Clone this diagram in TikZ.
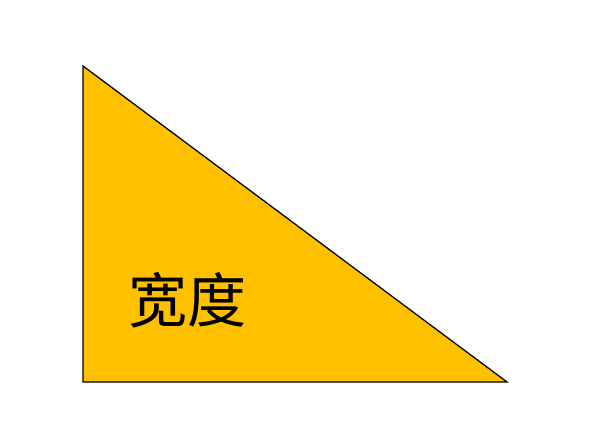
\documentclass[tikz,border=0pt]{standalone}
\usepackage{fontspec}
\newfontfamily\cjk{Noto Sans CJK SC}
\definecolor{wedgeorange}{RGB}{255,192,0}

\begin{document}
\begin{tikzpicture}[x=0.025cm,y=-0.025cm,
      wedge/.style={draw=black,fill=wedgeorange,line width=0.9pt,line join=miter},
      lbl/.style={inner sep=0pt,font=\cjk\fontsize{42}{48}\selectfont}]
    \useasboundingbox (0,0) rectangle (594,447);
    % corners of the triangle
    \coordinate (top) at (83,66);
    \coordinate (corner) at (83,382);
    \coordinate (tip) at (507,382);
    \draw[wedge] (top) -- (corner) -- (tip) -- cycle;
    % label
    \node[lbl] (width) at (188,300) {宽度};
  \end{tikzpicture}
\end{document}
